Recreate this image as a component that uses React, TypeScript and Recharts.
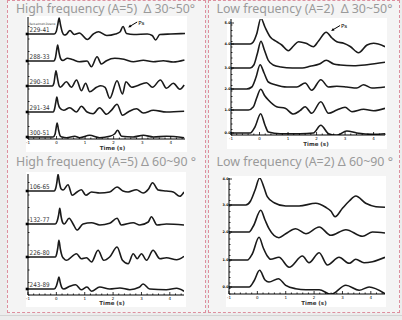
import React from 'react';
import { LineChart, Line, XAxis, YAxis, ReferenceDot } from 'recharts';

type Pt = [number, number];

// ---------- Panel 1: High frequency (A=5)  Δ 30~50° ----------
const hf30Title = 'High frequency (A=5)  Δ 30~50°';
const hf30Names = ['229-41', '288-33', '290-31', '291-34', '300-51'];
const hf30Offsets = [105, 78, 53, 27, 2];
const hf30_229_41: Pt[] = [[-1,0],[-0.08,0],[-0.01,2.5],[0.04,9],[0.09,16],[0.14,9],[0.2,2],[0.27,-1],[0.34,-0.5],[0.47,3.5],[0.62,-0.5],[0.8,1],[1.08,-5.5],[1.29,0],[1.47,2.3],[1.76,-1.5],[2.06,0],[2.22,2],[2.33,7.5],[2.45,0.5],[2.71,-0.5],[3.18,0],[3.35,-1.5],[3.47,-6],[3.62,-0.5],[4.0,0],[4.5,0.5]];
const hf30_288_33: Pt[] = [[-1,0],[-0.1,0],[-0.04,3],[0.0,10],[0.04,16],[0.09,8],[0.15,2],[0.22,0.5],[0.38,2.7],[0.55,1.5],[0.8,-0.7],[1.07,0],[1.22,-5.7],[1.42,4.3],[1.57,-3],[1.75,0.3],[2.04,2.7],[2.36,1.7],[2.69,-0.7],[3.04,0.7],[3.39,-0.7],[3.74,0.3],[4.09,-1],[4.48,1]];
const hf30_290_31: Pt[] = [[-1,0],[-0.15,0],[-0.09,3],[-0.06,9],[-0.02,15.3],[0.03,8],[0.08,1],[0.13,-1.3],[0.345,4.3],[0.52,-1.3],[0.7,6],[0.87,-4.7],[1.02,2.7],[1.16,-5.7],[1.4,-1.3],[1.55,0.3],[1.7,-1.3],[1.865,-12.3],[2.12,5.3],[2.31,-8],[2.43,4.3],[2.63,-1.3],[2.8,0],[3.15,3.3],[3.36,-1.3],[3.64,6],[3.85,-2.3],[4.09,2.7],[4.32,-3.3],[4.47,1]];
const hf30_291_34: Pt[] = [[-1,0],[-0.12,0],[-0.07,3],[-0.03,9],[0.01,15],[0.06,8],[0.11,4.3],[0.25,1.7],[0.46,4.3],[0.7,0],[0.87,5.7],[1.07,0],[1.28,-1.7],[1.51,4.3],[1.75,-2.3],[1.92,1.7],[2.12,7.7],[2.31,-3.3],[2.51,0],[2.8,3.3],[3.04,-1],[3.39,1.7],[3.85,0],[4.47,0.7]];
const hf30_300_51: Pt[] = [[-1,0],[-0.12,0],[-0.05,3],[-0.02,8],[0.02,14],[0.07,7],[0.13,1],[0.2,0],[0.35,-0.7],[0.64,0.7],[0.81,-0.7],[1.16,1.7],[1.51,-0.7],[1.86,0.7],[2.03,3],[2.14,6.7],[2.28,0.7],[2.68,0],[3.04,1.7],[3.39,0],[3.85,0.7],[4.47,-0.7]];
const hf30Traces = [hf30_229_41, hf30_288_33, hf30_290_31, hf30_291_34, hf30_300_51];
const hf30Ps = { t: 2.51, v: 111.5 };

// ---------- Panel 2: Low frequency (A=2)  Δ 30~50° ----------
const lf30Title = 'Low frequency (A=2)  Δ 30~50°';
const lf30Offsets = [91, 67, 46, 25, 2];
const lf30TickValues = [2, 25, 46, 67, 91, 112];
const lf30TickLabels = ['0.0', '1.0', '2.0', '3.0', '4.0', '5.0'];
const lf30_1: Pt[] = [[-1,0],[-0.33,0],[-0.22,2],[-0.1,10],[0.05,25.7],[0.19,17],[0.37,7.3],[0.6,2.3],[0.78,-1],[1.01,-6.7],[1.19,-2],[1.37,2.3],[1.63,0.7],[1.89,-2.7],[2.07,3],[2.34,11.7],[2.54,6],[2.71,2.3],[2.95,0.7],[3.18,-2.5],[3.47,-8.7],[3.77,-1],[4.0,0.7],[4.4,-2.7]];
const lf30_2: Pt[] = [[-1,0],[-0.33,0],[-0.2,3],[-0.08,14],[0.05,26.7],[0.17,18],[0.3,8],[0.48,3],[0.75,1],[1.15,0],[1.5,0],[1.77,1.7],[2.1,4],[2.34,7.7],[2.6,4],[2.83,3],[3.3,2.3],[3.77,3.3],[4.4,5.7]];
const lf30_3: Pt[] = [[-1,0],[-0.45,0],[-0.27,2],[-0.12,12],[0.02,24.3],[0.16,16],[0.31,7],[0.55,4.3],[0.96,2],[1.31,2],[1.6,6],[1.83,-1.3],[2.15,9.3],[2.42,2],[2.71,2.7],[3.06,2],[3.41,1],[3.65,4.3],[3.94,1],[4.4,2]];
const lf30_4: Pt[] = [[-1,0],[-0.39,0],[-0.22,3],[-0.1,12],[0.04,20.7],[0.19,14],[0.31,10],[0.6,3.3],[0.9,1.7],[1.19,-4],[1.42,-0.7],[1.6,3.3],[1.83,-3.3],[2.15,8.3],[2.42,-3.3],[2.71,0],[3.0,2.7],[3.24,-1.7],[3.65,0.7],[4.0,-0.7],[4.4,1.7]];
const lf30_5: Pt[] = [[-1,0],[-0.33,0],[-0.16,6],[0.04,19.3],[0.19,8],[0.31,1],[0.72,-0.7],[1.42,-0.7],[1.89,0],[2.15,7.7],[2.42,-0.7],[2.71,-2.3],[3.06,2],[3.41,0],[4.0,-1.3],[4.4,-0.7]];
const lf30Traces = [lf30_1, lf30_2, lf30_3, lf30_4, lf30_5];
const lf30Ps = { t: 2.51, v: 104 };

// ---------- Panel 3: High frequency (A=5) Δ 60~90 ° ----------
const hf60Title = 'High frequency (A=5) Δ 60~90 °';
const hf60Names = ['106-65', '132-77', '226-80', '243-89'];
const hf60Offsets = [104, 71, 38, 6];
const hf60_106_65: Pt[] = [[-1,0],[-0.08,0],[-0.02,3],[0.02,9],[0.06,16.7],[0.11,8],[0.17,2],[0.24,1],[0.41,6.3],[0.56,-4.3],[0.73,-1],[0.88,1.3],[1.04,-4.3],[1.24,-1],[1.53,-2],[1.88,-1],[2.14,4],[2.35,0],[2.53,-1],[2.82,1.3],[3.06,-2],[3.25,2],[3.39,8.3],[3.59,1],[3.88,0],[4.12,-1],[4.35,-5.3],[4.5,-1]];
const hf60_132_77: Pt[] = [[-1,0],[-0.04,0],[0.03,3],[0.08,9],[0.12,15.7],[0.17,7],[0.23,1],[0.28,0],[0.45,5.7],[0.59,0],[0.73,-6],[0.94,0],[1.24,1.3],[1.53,-1],[1.88,0.7],[2.14,5.7],[2.29,-1],[2.71,1.3],[2.94,-1],[3.24,2],[3.35,7.3],[3.55,-1],[3.88,0],[4.5,-1]];
const hf60_226_80: Pt[] = [[-1,0],[-0.04,0],[0.01,3],[0.05,9],[0.09,16.7],[0.14,8],[0.2,1],[0.26,-1.5],[0.35,-3.3],[0.71,3.3],[0.88,-1.7],[1.06,-0.7],[1.24,-5],[1.47,6.7],[1.67,-3.3],[1.88,0],[2.14,10],[2.33,-3.3],[2.53,-6.7],[2.71,3.3],[2.85,-1.7],[3.0,3.3],[3.18,-3.3],[3.41,6.7],[3.65,-1.7],[3.88,-0.7],[4.24,-2.7],[4.5,0.7]];
const hf60_243_89: Pt[] = [[-1,0],[-0.08,0],[0.0,3],[0.05,8],[0.09,12],[0.14,6],[0.2,1],[0.26,0],[0.47,2.7],[0.68,4.3],[0.88,-0.7],[1.08,2],[1.24,-2.3],[1.53,2],[1.88,0],[2.24,1],[2.59,-0.7],[2.92,1.7],[3.06,5],[3.29,0],[3.88,-0.7],[4.24,0.7],[4.5,-2.3]];
const hf60Traces = [hf60_106_65, hf60_132_77, hf60_226_80, hf60_243_89];

// ---------- Panel 4: Low frequency (A=2) Δ 60~90 ° ----------
const lf60Title = 'Low frequency (A=2) Δ 60~90 °';
const lf60Offsets = [89, 62, 34, 7];
const lf60TickValues = [7, 34, 62, 89, 115];
const lf60TickLabels = ['0.0', '1.0', '2.0', '3.0', '4.0'];
const lf60_1: Pt[] = [[-1,0],[-0.41,0],[-0.24,4],[-0.08,15],[0.08,27],[0.24,17],[0.35,8.3],[0.59,2.3],[1.0,-1],[1.47,-1],[2.06,1.7],[2.41,-2.3],[2.59,-6],[2.74,-11.7],[3.0,-3.3],[3.24,4],[3.47,9],[3.82,1.7],[4.18,-1.7],[4.5,-2.3]];
const lf60_2: Pt[] = [[-1,0],[-0.29,0],[-0.14,6],[0.12,21.7],[0.27,12],[0.41,3.3],[0.76,-5.7],[1.0,-1.7],[1.35,3.3],[1.71,-1.7],[2.18,5],[2.59,-3.3],[3.12,2.3],[3.71,-4.3],[4.06,0],[4.5,-1]];
const lf60_3: Pt[] = [[-1,0],[-0.35,0],[-0.18,6],[0.06,22.7],[0.21,12],[0.35,4],[0.47,0.7],[0.76,2.7],[1.12,-7.3],[1.59,4],[1.82,-2.7],[2.18,7.3],[2.47,-5],[2.88,2.7],[3.24,-3.3],[3.47,0.7],[3.76,-2.7],[4.06,-1.7],[4.5,2.7]];
const lf60_4: Pt[] = [[-1,0],[-0.29,0],[-0.12,6],[0.08,16.7],[0.27,7],[0.41,5],[0.74,8.3],[1.0,1.7],[1.35,-1.7],[1.71,-2.7],[2.18,-2.7],[2.59,-7.3],[3.12,1.7],[3.59,-3.3],[3.94,0],[4.5,-6.7]];
const lf60Traces = [lf60_1, lf60_2, lf60_3, lf60_4];

const xMajorTicks = [-1, 0, 1, 2, 3, 4];
const xAxisLabel = 'Time (s)';

const steps = (a: number, b: number, s: number) => {
  const out: number[] = [];
  for (let v = a; v <= b + 1e-9; v += s) out.push(Math.round(v * 1000) / 1000);
  return out;
};
const isMajorX = (v: number) => xMajorTicks.some((m) => Math.abs(m - v) < 1e-6);

const LINE = '#1a1a1a';
const PAD = 8;

function BottomTick(props: any) {
  const { x, y, payload } = props;
  const major = isMajorX(payload.value);
  return (
    <g>
      <line x1={x} y1={y} x2={x} y2={y - (major ? 3 : 1.5)} stroke="#000" strokeWidth={0.8} />
      {major && (
        <text x={x} y={y + 5} textAnchor="middle" fontSize={4} fill="#000" fontFamily="DejaVu Sans">
          {payload.value}
        </text>
      )}
    </g>
  );
}

function TopTick(props: any) {
  const { x, y, payload } = props;
  const major = isMajorX(payload.value);
  return <line x1={x} y1={y} x2={x} y2={y + (major ? 3 : 1.5)} stroke="#000" strokeWidth={0.8} />;
}

function makeNamedTick(offsets: number[], names: string[]) {
  return (props: any) => {
    const { x, y, payload } = props;
    const i = offsets.findIndex((o) => Math.abs(o - payload.value) < 1e-6);
    if (i < 0) return <line x1={x} y1={y} x2={x + 1.5} y2={y} stroke="#000" strokeWidth={0.8} />;
    return (
      <g>
        <rect x={x - 2.3} y={y - 1.3} width={2.6} height={2.6} fill="#000" />
        <text x={x + 1.6} y={y - 1.6} fontSize={6.5} fill="#333" fontFamily="DejaVu Sans" textLength={20} lengthAdjust="spacingAndGlyphs">
          {names[i]}
        </text>
      </g>
    );
  };
}

function makeNumTick(values: number[], labels: string[]) {
  return (props: any) => {
    const { x, y, payload } = props;
    const i = values.findIndex((o) => Math.abs(o - payload.value) < 1e-6);
    if (i < 0) return <line x1={x} y1={y} x2={x + 1.5} y2={y} stroke="#000" strokeWidth={0.8} />;
    return (
      <g>
        <line x1={x} y1={y} x2={x + 3} y2={y} stroke="#000" strokeWidth={0.8} />
        <text x={x - 0.4} y={y + 1.2} textAnchor="end" fontSize={3.4} fontWeight={700} fill="#000" fontFamily="DejaVu Sans">
          {labels[i]}
        </text>
      </g>
    );
  };
}

function PsArrow(props: any) {
  const { cx, cy } = props;
  if (cx == null || cy == null) return null;
  return (
    <g>
      <line x1={cx + 9} y1={cy - 5.5} x2={cx + 2} y2={cy - 1.3} stroke="#000" strokeWidth={1} />
      <polygon points={`${cx},${cy} ${cx + 3.4},${cy - 0.5} ${cx + 1.9},${cy - 2.9}`} fill="#000" />
      <text x={cx + 10} y={cy - 3} fontSize={5.5} fill="#000" fontFamily="DejaVu Sans">Ps</text>
    </g>
  );
}

type Cfg = {
  left: number; top: number; width: number; height: number;
  mt: number; mr: number; yw: number; xh: number;
  xDomain: [number, number]; H: number; labelOffset: number; labelDx: number;
};

function WavePanel({ cfg, traces, offsets, yTicks, yTick, ps }: {
  cfg: Cfg; traces: Pt[][]; offsets: number[]; yTicks: number[]; yTick: any; ps?: { t: number; v: number };
}) {
  const xTicks = steps(cfg.xDomain[0], cfg.xDomain[1], 0.2);
  return (
    <>
      <div style={{ position: 'absolute', left: cfg.left, top: cfg.top, width: cfg.width, height: cfg.height, background: '#fff' }} />
      <div style={{ position: 'absolute', left: cfg.left - PAD, top: cfg.top, width: cfg.width + PAD, height: cfg.height }}>
        <LineChart width={cfg.width + PAD} height={cfg.height} margin={{ top: cfg.mt, right: cfg.mr, bottom: 0, left: 0 }}>
          <XAxis
            xAxisId="b" dataKey="t" type="number" domain={cfg.xDomain} allowDataOverflow
            ticks={xTicks} interval={0} tickSize={0} tickMargin={0} tickLine={false}
            tick={<BottomTick />} height={cfg.xh} axisLine={{ stroke: '#000', strokeWidth: 1 }}
            label={{ value: xAxisLabel, position: 'insideBottom', offset: cfg.labelOffset, dx: cfg.labelDx, fontSize: 5.5, fontWeight: 700, fill: '#333', fontFamily: 'DejaVu Sans' }}
          />
          <XAxis
            xAxisId="top" orientation="top" type="number" domain={cfg.xDomain} allowDataOverflow
            ticks={xTicks} interval={0} tickSize={0} tickMargin={0} tickLine={false}
            tick={<TopTick />} height={0} axisLine={{ stroke: '#000', strokeWidth: 1 }}
          />
          <YAxis
            yAxisId="l" type="number" domain={[0, cfg.H]} allowDataOverflow width={cfg.yw + PAD}
            ticks={yTicks} interval={0} tickSize={0} tickMargin={0} tickLine={false}
            tick={yTick} axisLine={{ stroke: '#000', strokeWidth: 1 }}
          />
          <YAxis
            yAxisId="r" orientation="right" type="number" domain={[0, cfg.H]} width={0}
            tick={false} tickLine={false} axisLine={{ stroke: '#000', strokeWidth: 1 }}
          />
          {traces.map((pts, i) => (
            <Line
              key={i} xAxisId="b" yAxisId="l"
              data={pts.map(([t, a]) => ({ t, v: offsets[i] + a }))}
              dataKey="v" type="monotone" stroke={LINE} strokeWidth={1.6}
              dot={false} activeDot={false} isAnimationActive={false}
            />
          ))}
          {ps && (
            <ReferenceDot xAxisId="b" yAxisId="l" x={ps.t} y={ps.v} r={0} ifOverflow="visible" shape={(p: any) => <PsArrow {...p} />} />
          )}
        </LineChart>
      </div>
    </>
  );
}

const merge = (a: number[], b: number[]) =>
  Array.from(new Set([...a, ...b].map((v) => Math.round(v * 100) / 100))).sort((x, y) => x - y);

const cfgTL: Cfg = { left: 26, top: 16, width: 161, height: 136, mt: 1, mr: 2, yw: 2, xh: 13, xDomain: [-1, 4.5], H: 122, labelOffset: 2.5, labelDx: 6 };
const cfgTR: Cfg = { left: 227, top: 18, width: 160, height: 131, mt: 1, mr: 2, yw: 4, xh: 14, xDomain: [-1, 4.4], H: 116, labelOffset: 3, labelDx: 8 };
const cfgBL: Cfg = { left: 26, top: 172, width: 160, height: 135, mt: 2, mr: 2, yw: 2, xh: 12, xDomain: [-1, 4.5], H: 121, labelOffset: 2.5, labelDx: 6 };
const cfgBR: Cfg = { left: 226, top: 176, width: 160, height: 131, mt: 2, mr: 1, yw: 3, xh: 13, xDomain: [-1, 4.5], H: 116, labelOffset: 2, labelDx: 7 };

const titleStyle: React.CSSProperties = { whiteSpace: 'pre' };

export default function App() {
  const panelBorder = '1px dashed #dd8f9e';
  return (
    <div style={{ position: 'absolute', left: 0, top: 0, width: 402, height: 320, background: '#ececec', overflow: 'hidden' }}>
      <div style={{ position: 'absolute', left: 7, top: 0, width: 199, height: 313, boxSizing: 'border-box', border: panelBorder, background: '#f4f4f4' }} />
      <div style={{ position: 'absolute', left: 208, top: 0, width: 192, height: 313, boxSizing: 'border-box', border: panelBorder, background: '#f4f4f4' }} />
      <div style={{ position: 'absolute', left: 0, top: 315, width: 402, height: 1, background: '#d4d4d4' }} />

      <WavePanel cfg={cfgTL} traces={hf30Traces} offsets={hf30Offsets}
        yTicks={merge(hf30Offsets, steps(0, 120, 12.5))} yTick={makeNamedTick(hf30Offsets, hf30Names)} ps={hf30Ps} />
      <WavePanel cfg={cfgTR} traces={lf30Traces} offsets={lf30Offsets}
        yTicks={merge(lf30TickValues, steps(0, 115, 5.5))} yTick={makeNumTick(lf30TickValues, lf30TickLabels)} ps={lf30Ps} />
      <WavePanel cfg={cfgBL} traces={hf60Traces} offsets={hf60Offsets}
        yTicks={merge(hf60Offsets, steps(0, 120, 12.5))} yTick={makeNamedTick(hf60Offsets, hf60Names)} />
      <WavePanel cfg={cfgBR} traces={lf60Traces} offsets={lf60Offsets}
        yTicks={merge(lf60TickValues, steps(0, 115, 5.5))} yTick={makeNumTick(lf60TickValues, lf60TickLabels)} />

      <svg width={402} height={320} style={{ position: 'absolute', left: 0, top: 0, pointerEvents: 'none' }}>
        <g fontFamily="Noto Sans, DejaVu Sans, sans-serif" fontSize={12} fill="#9a9a9a">
          <text x={16} y={13} textLength={179} lengthAdjust="spacingAndGlyphs" style={titleStyle}>{hf30Title}</text>
          <text x={216.5} y={13.3} textLength={176} lengthAdjust="spacingAndGlyphs" style={titleStyle}>{lf30Title}</text>
          <text x={16} y={166} textLength={180} lengthAdjust="spacingAndGlyphs" style={titleStyle}>{hf60Title}</text>
          <text x={216.5} y={166} textLength={176.5} lengthAdjust="spacingAndGlyphs" style={titleStyle}>{lf60Title}</text>
        </g>
        <text x={29.5} y={25} fontSize={3} fill="#333" fontFamily="DejaVu Sans" textLength={26} lengthAdjust="spacingAndGlyphs">Back-azimuth-Distance</text>
      </svg>
    </div>
  );
}
